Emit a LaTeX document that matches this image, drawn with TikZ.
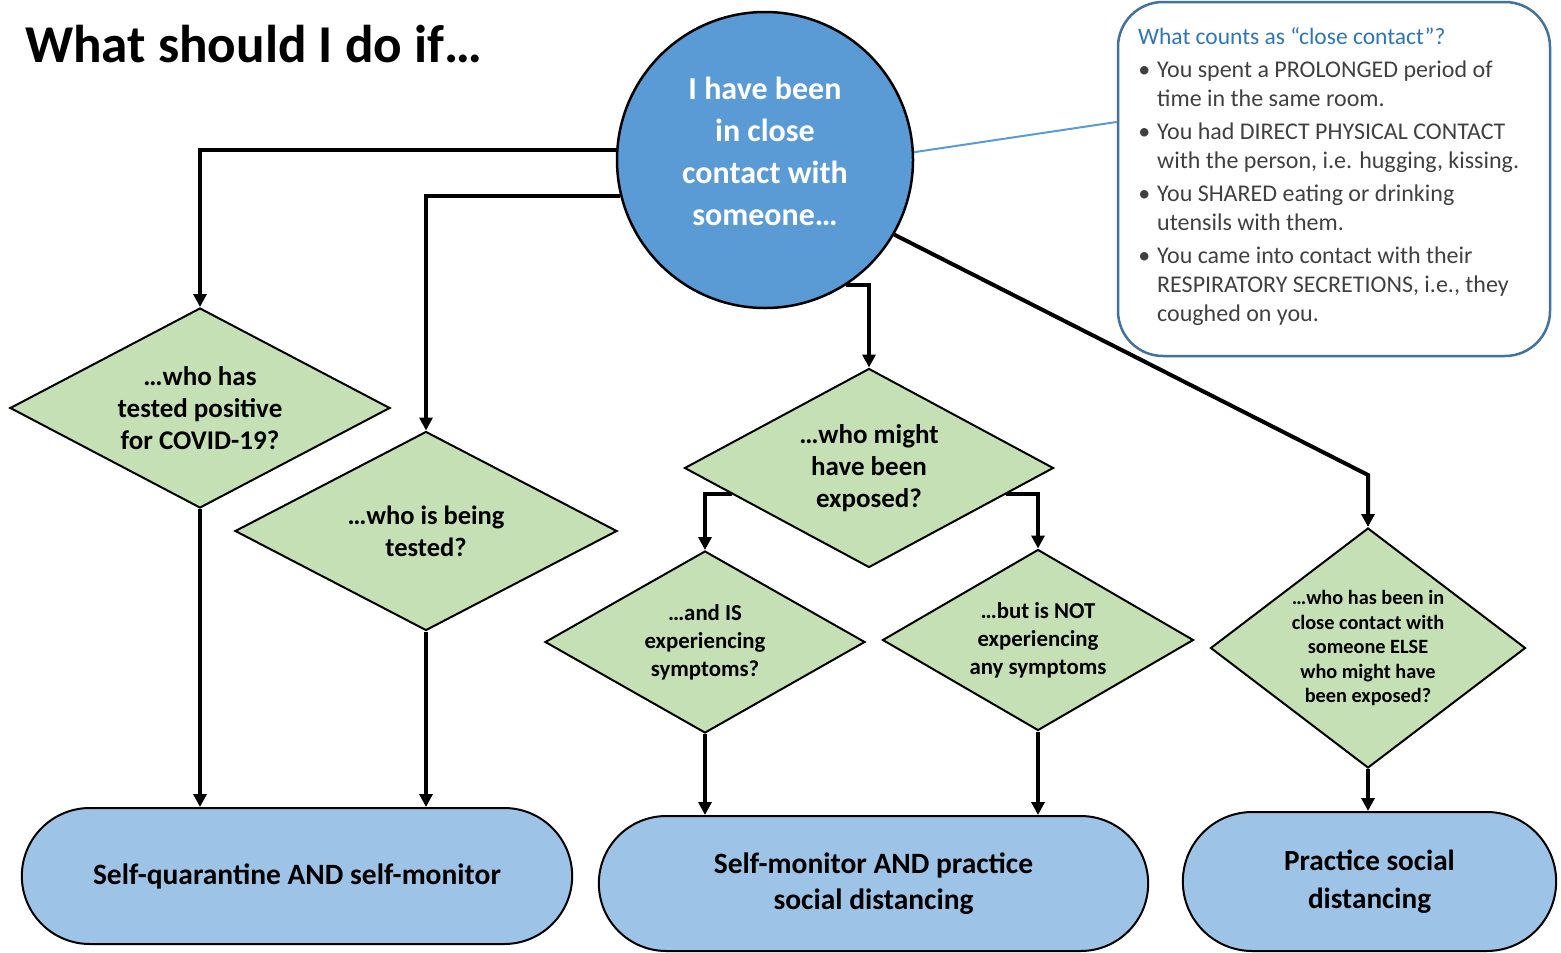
\documentclass[tikz,border=0pt]{standalone}
\usepackage{fontspec}
\setmainfont{Carlito}
\usetikzlibrary{arrows.meta, positioning, shapes.geometric, shapes.misc, calc}
\usepackage{xcolor}
\definecolor{circblue}{HTML}{5B9BD5}
\definecolor{outblue}{HTML}{9DC3E6}
\definecolor{qgreen}{HTML}{C5E0B4}
\definecolor{boxblue}{HTML}{41719C}
\definecolor{headblue}{HTML}{2E75B6}
\definecolor{listgray}{HTML}{404040}

\begin{document}
\begin{tikzpicture}[x=1pt, y=-1pt,
    query/.style={draw, line width=2pt, fill=qgreen, diamond, inner sep=0pt, align=center, font=\fontsize{27}{32}\selectfont\bfseries},
    outcome/.style={draw, line width=2pt, fill=outblue, rounded rectangle, align=center, font=\fontsize{29.5}{36}\selectfont\bfseries},
    flow/.style={line width=4pt, -{Triangle[width=13pt, length=13pt]}}]
        \useasboundingbox (0,0) rectangle (1561,953);
        \node[anchor=base west, inner sep=0pt, font=\fontsize{53.2}{60}\selectfont\bfseries] (title) at (25,62) {What should I do if…};

        % start circle
        \node[draw, circle, line width=2.5pt, fill=circblue, minimum size=296pt] (src) at (765,160) {};
        \node[text=white, align=center, font=\fontsize{32}{42}\selectfont\bfseries] (srctext) at (765,151) {I have been\\ in close\\ contact with\\ someone…};

        % callout
        \node[draw=boxblue, line width=2.5pt, rounded corners=45pt, minimum width=432pt, minimum height=354pt] (ccbox) at (1334,179) {};
        \node[anchor=base west, inner sep=0pt, text=headblue, font=\fontsize{23.5}{26}\selectfont] (cchead) at (1138,44) {What counts as “close contact”?};
        \node[anchor=north west, inner sep=0pt, align=left, text=listgray, font=\fontsize{24}{29}\selectfont] (cclist) at (1157,61) {%
            \llap{•\hspace{7pt}}You spent a PROLONGED period of\\
            time in the same room.\\[4pt]
            \llap{•\hspace{7pt}}You had DIRECT PHYSICAL CONTACT\\
            with the person, i.e. hugging, kissing.\\[4pt]
            \llap{•\hspace{7pt}}You SHARED eating or drinking\\
            utensils with them.\\[4pt]
            \llap{•\hspace{7pt}}You came into contact with their\\
            RESPIRATORY SECRETIONS, i.e., they\\
            coughed on you.};
        \draw[circblue, line width=2pt] (src.3.5) -- ($(ccbox.north west)!0.34!(ccbox.south west)$);

        % questions
        \node[query, minimum width=380pt, minimum height=200pt, aspect=1.9] (d1) at (200,408) {…who has\\ tested positive\\ for COVID-19?};
        \node[query, minimum width=382pt, minimum height=199pt, aspect=1.92, font=\fontsize{26.5}{32}\selectfont\bfseries] (d2) at (426,531) {…who is being\\ tested?};
        \node[query, minimum width=369pt, minimum height=199pt, aspect=1.85] (d3) at (869,468) {…who might\\ have been\\ exposed?};
        \node[query, minimum width=320pt, minimum height=182pt, aspect=1.76, font=\fontsize{22.8}{28}\selectfont\bfseries] (d4) at (705,642) {…and IS\\ experiencing\\ symptoms?};
        \node[query, minimum width=311pt, minimum height=181pt, aspect=1.72, font=\fontsize{22.8}{28}\selectfont\bfseries] (d5) at (1038,640) {…but is NOT\\ experiencing\\ any symptoms};
        \node[query, minimum width=315pt, minimum height=240pt, aspect=1.31, font=\fontsize{20.3}{24.5}\selectfont\bfseries] (d6) at (1368,648) {…who has been in\\ close contact with\\ someone ELSE\\ who might have\\ been exposed?};

        % outcomes
        \node[outcome, minimum width=557pt, minimum height=136pt] (t1) at (297,876) {Self-quarantine AND self-monitor};
        \node[outcome, minimum width=556pt, minimum height=135pt] (t2) at (873.5,883.5) {Self-monitor AND practice\\ social distancing};
        \node[outcome, minimum width=380pt, minimum height=139pt, font=\fontsize{29.2}{38}\selectfont\bfseries] (t3) at (1369.5,881.5) {Practice social\\ distancing};

        \coordinate (bend6) at (1368,475);
        \draw[flow] (src.176.5) -| (d1.north);
        \draw[flow] (src.194.5) -| (d2.north);
        \draw[flow] (src.-57) -| (d3.north);
        \draw[flow] (src.-30.4) -- (bend6) -- (d6.north);
        \draw[flow] ($(d3.west)!0.26!(d3.south)$) -| (d4.north);
        \draw[flow] ($(d3.east)!0.26!(d3.south)$) -| (d5.north);
        \draw[flow] (d1.south) -- (d1.south |- t1.north);
        \draw[flow] (d2.south) -- (d2.south |- t1.north);
        \draw[flow] (d4.south) -- (d4.south |- t2.north);
        \draw[flow] (d5.south) -- (d5.south |- t2.north);
        \draw[flow] (d6.south) -- (d6.south |- t3.north);
      \end{tikzpicture}
\end{document}
